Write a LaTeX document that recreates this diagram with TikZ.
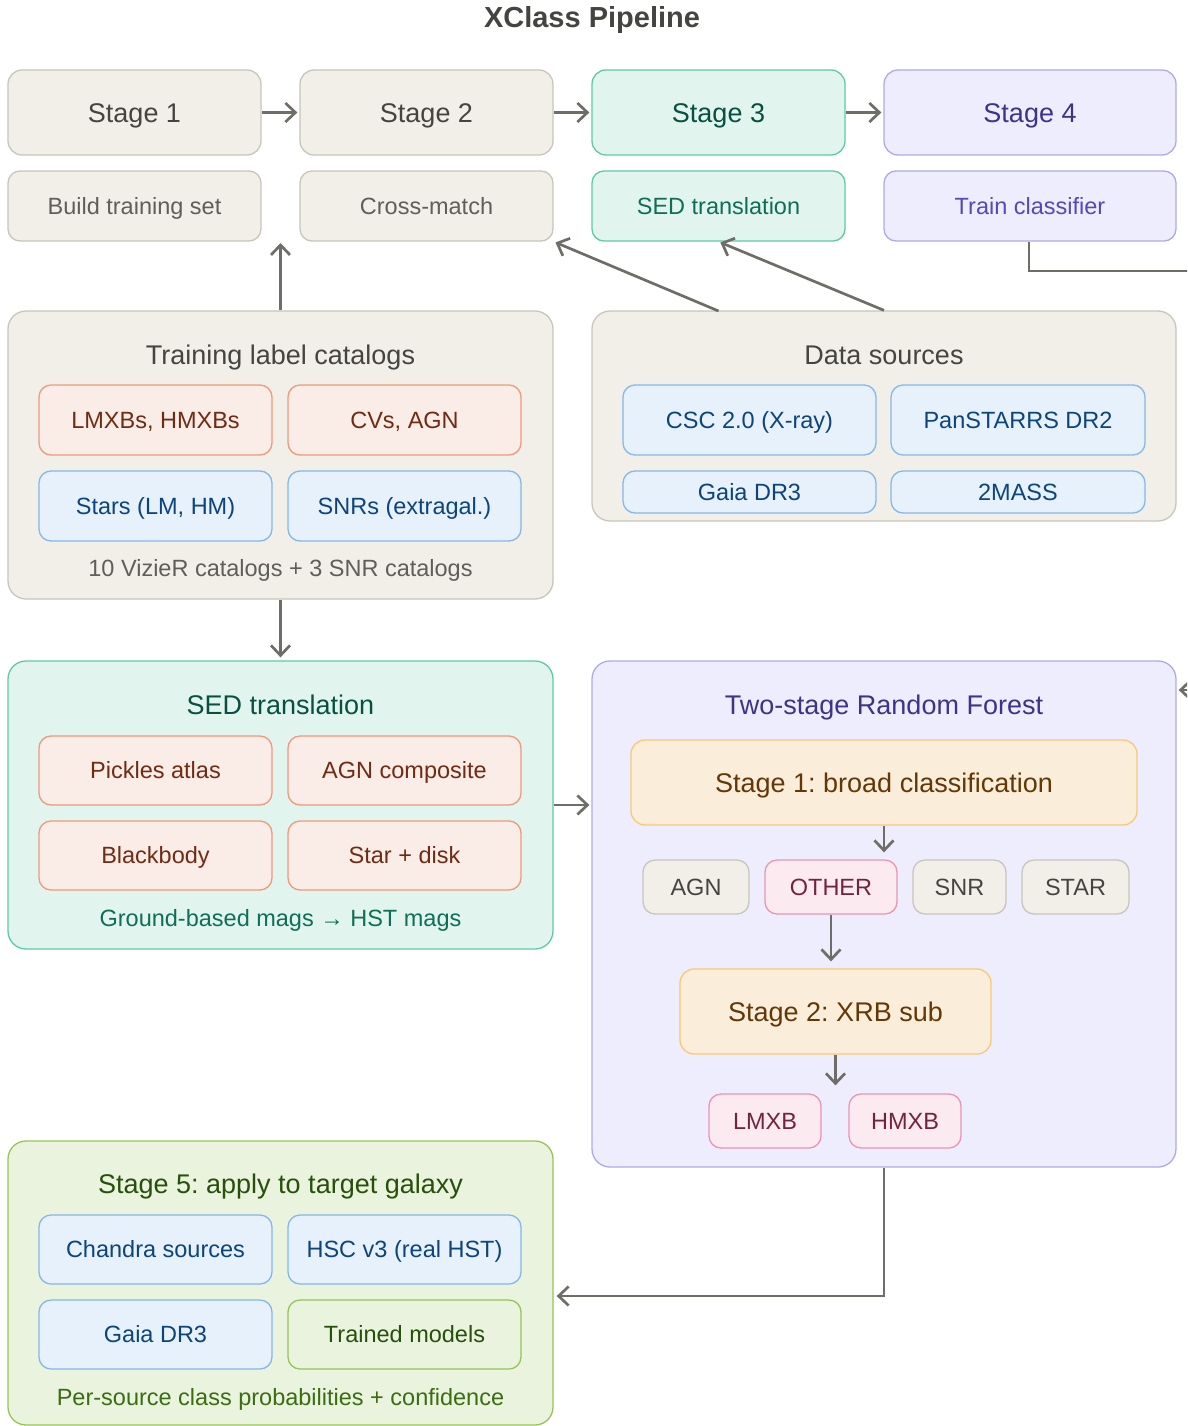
\documentclass[tikz,border=0pt]{standalone}
\usepackage{fontspec}
\setmainfont{Liberation Sans}
\usetikzlibrary{arrows.meta}
\frenchspacing
\definecolor{bgF}{HTML}{F1EFE8}\definecolor{bgD}{HTML}{C8C5BC}\definecolor{bgT}{HTML}{444441}\definecolor{bgTT}{HTML}{5F5E5A}
\definecolor{tealF}{HTML}{E1F5EE}\definecolor{tealD}{HTML}{5DCAA5}\definecolor{tealT}{HTML}{085041}\definecolor{tealTT}{HTML}{0F6E56}
\definecolor{purF}{HTML}{EEEDFE}\definecolor{purD}{HTML}{AFA9EC}\definecolor{purT}{HTML}{3C3489}\definecolor{purTT}{HTML}{534AB7}
\definecolor{salF}{HTML}{FAECE7}\definecolor{salD}{HTML}{F0997B}\definecolor{salT}{HTML}{712B13}
\definecolor{bluF}{HTML}{E6F1FB}\definecolor{bluD}{HTML}{85B7EB}\definecolor{bluT}{HTML}{0C447C}
\definecolor{ambF}{HTML}{FAEEDA}\definecolor{ambD}{HTML}{FAC775}\definecolor{ambT}{HTML}{633806}
\definecolor{pinF}{HTML}{FBEAF0}\definecolor{pinD}{HTML}{ED93B1}\definecolor{pinT}{HTML}{72243E}
\definecolor{grnF}{HTML}{EAF3DE}\definecolor{grnD}{HTML}{97C459}\definecolor{grnT}{HTML}{27500A}\definecolor{grnTT}{HTML}{3B6D11}
\definecolor{arrC}{HTML}{6E6D67}
\newcommand\bx[7]{\node[#1, minimum width=#5pt, minimum height=#6pt] (#2) at (#3,#4) {#7};}
\tikzset{
  base/.style={rounded corners=12pt, line width=1.3pt, inner sep=0pt, align=center, text height=16.8pt, text depth=0pt, font=\fontsize{23.5}{27}\selectfont},
  grp/.style={base, rounded corners=18pt},
  hdr/.style={font=\fontsize{27}{30}\selectfont, text height=19.4pt},
  beige/.style={base, fill=bgF, draw=bgD, text=bgT},
  teal/.style={base, fill=tealF, draw=tealD, text=tealT},
  pur/.style={base, fill=purF, draw=purD, text=purT},
  sal/.style={base, fill=salF, draw=salD, text=salT},
  blu/.style={base, fill=bluF, draw=bluD, text=bluT},
  amb/.style={base, fill=ambF, draw=ambD, text=ambT},
  pin/.style={base, fill=pinF, draw=pinD, text=pinT},
  grn/.style={base, fill=grnF, draw=grnD, text=grnT},
  lbl/.style={inner sep=0pt, text height=16.8pt, text depth=0pt, font=\fontsize{23.5}{27}\selectfont},
  ttl/.style={inner sep=0pt, text height=19.4pt, text depth=0pt, font=\fontsize{27}{30}\selectfont},
  arr/.style={draw=arrC, line width=2.7pt, -{Straight Barb[length=10pt,width=19pt]}}
}
\begin{document}
\begin{tikzpicture}[x=1pt,y=-1pt]
\path[use as bounding box] (0,0) rectangle (1187,1426);
\clip (0,0) rectangle (1187,1426);
\node[inner sep=0pt, text height=21pt, text depth=0pt, font=\fontsize{29}{32}\selectfont\bfseries, text=bgT] (title) at (592,17) {XClass Pipeline};
% top row
\bx{beige,hdr,rounded corners=14pt}{s1}{134.5}{112.5}{253}{85}{Stage 1}
\bx{beige,hdr,rounded corners=14pt}{s2}{426.5}{112.5}{253}{85}{Stage 2}
\bx{teal,hdr,rounded corners=14pt}{s3}{718.5}{112.5}{253}{85}{Stage 3}
\bx{pur,hdr,rounded corners=14pt}{s4}{1030}{112.5}{292}{85}{Stage 4}
\bx{beige,text=bgTT}{r1}{134.5}{206}{253}{70}{Build training set}
\bx{beige,text=bgTT}{r2}{426.5}{206}{253}{70}{Cross-match}
\bx{teal,text=tealTT}{r3}{718.5}{206}{253}{70}{SED translation}
\bx{pur,text=purTT}{r4}{1030}{206}{292}{70}{Train classifier}
% training label catalogs
\bx{beige,grp}{cat}{280.5}{455}{545}{288}{}
\node[ttl, text=bgT] (catT) at (280.5,355) {Training label catalogs};
\bx{sal}{lmxb}{155.5}{420}{233}{70}{LMXBs, HMXBs}
\bx{sal}{cvs}{404.5}{420}{233}{70}{CVs, AGN}
\bx{blu}{stars}{155.5}{506}{233}{70}{Stars (LM, HM)}
\bx{blu}{snrs}{404.5}{506}{233}{70}{SNRs (extragal.)}
\node[lbl, text=bgTT] (catF) at (280.5,568) {10 VizieR catalogs + 3 SNR catalogs};
% data sources
\bx{beige,grp}{data}{884}{416}{584}{210}{}
\node[ttl, text=bgT] (dataT) at (884,355) {Data sources};
\bx{blu}{csc}{749.5}{420}{253}{70}{CSC 2.0 (X-ray)}
\bx{blu}{pan}{1018}{420}{254}{70}{PanSTARRS DR2}
\bx{blu}{gaiaA}{749.5}{492}{253}{42}{Gaia DR3}
\bx{blu}{tmass}{1018}{492}{254}{42}{2MASS}
% SED translation
\bx{teal,grp}{sed}{280.5}{805}{545}{288}{}
\node[ttl, text=tealT] (sedT) at (280.5,705) {SED translation};
\bx{sal}{pick}{155.5}{770.5}{233}{69}{Pickles atlas}
\bx{sal}{agnc}{404.5}{770.5}{233}{69}{AGN composite}
\bx{sal}{bb}{155.5}{855.5}{233}{69}{Blackbody}
\bx{sal}{sdisk}{404.5}{855.5}{233}{69}{Star + disk}
\node[lbl, text=tealTT] (sedF) at (280.5,918) {Ground-based mags → HST mags};
% random forest
\bx{pur,grp}{rf}{884}{914}{584}{506}{}
\node[ttl, text=purT] (rfT) at (884,705) {Two-stage Random Forest};
\bx{amb,hdr,rounded corners=14pt}{sa}{884}{782.5}{506}{85}{Stage 1: broad classification}
\bx{beige}{agn}{696}{887}{106}{54}{AGN}
\bx{pin}{other}{831}{887}{132}{54}{OTHER}
\bx{beige}{snr}{959.5}{887}{93}{54}{SNR}
\bx{beige}{star}{1075.5}{887}{107}{54}{STAR}
\bx{amb,hdr,rounded corners=14pt}{sb}{835.5}{1011.5}{311}{85}{Stage 2: XRB sub}
\bx{pin}{lm}{765}{1121}{112}{54}{LMXB}
\bx{pin}{hm}{905}{1121}{112}{54}{HMXB}
% stage 5
\bx{grn,grp}{st5}{280.5}{1283}{545}{284}{}
\node[ttl, text=grnT] (st5T) at (280.5,1184) {Stage 5: apply to target galaxy};
\bx{blu}{chan}{155.5}{1249.5}{233}{69}{Chandra sources}
\bx{blu}{hsc}{404.5}{1249.5}{233}{69}{HSC v3 (real HST)}
\bx{blu}{gaiaB}{155.5}{1334.5}{233}{69}{Gaia DR3}
\bx{grn}{tm}{404.5}{1334.5}{233}{69}{Trained models}
\node[lbl, text=grnTT] (st5F) at (280.5,1397) {Per-source class probabilities + confidence};
% connectors
\draw[arr, shorten >=2pt] (s1.east) -- (s2.west);
\draw[arr, shorten >=2pt] (s2.east) -- (s3.west);
\draw[arr, shorten >=2pt] (s3.east) -- (s4.west);
\coordinate (catTop) at (cat.north);
\coordinate (catTgt) at (280.5,243);
\draw[arr] (catTop) -- (catTgt);
\coordinate (dA) at (718.5,311);
\draw[arr, shorten >=2pt] (dA) -- (r2.south east);
\draw[arr, shorten >=2pt] (data.north) -- (r3.south);
\draw[arr, shorten >=3pt] (cat.south) -- (sed.north);
\draw[arr, shorten >=2pt] (sed.east) -- (sed.east -| rf.west);
\draw[arr, shorten >=7pt] (sa.south) -- (sa.south |- agn.north);
\draw[arr, shorten >=7pt] (other.south) -- (other.south |- sb.north);
\draw[arr, shorten >=8pt] (sb.south) -- (sb.south |- lm.north);
\coordinate (fb) at (884,1296);
\coordinate (fbEnd) at (st5.east |- fb);
\draw[arr, shorten >=3pt] (rf.south) -- (fb) -- (fbEnd);
\coordinate (loopA) at (1029,271);
\coordinate (loopB) at (1210,271);
\coordinate (loopC) at (1210,690);
\coordinate (loopD) at (rf.east |- loopC);
\draw[arr, shorten >=2pt] (r4.south -| loopA) -- (loopA) -- (loopB) -- (loopC) -- (loopD);
\end{tikzpicture}
\end{document}
